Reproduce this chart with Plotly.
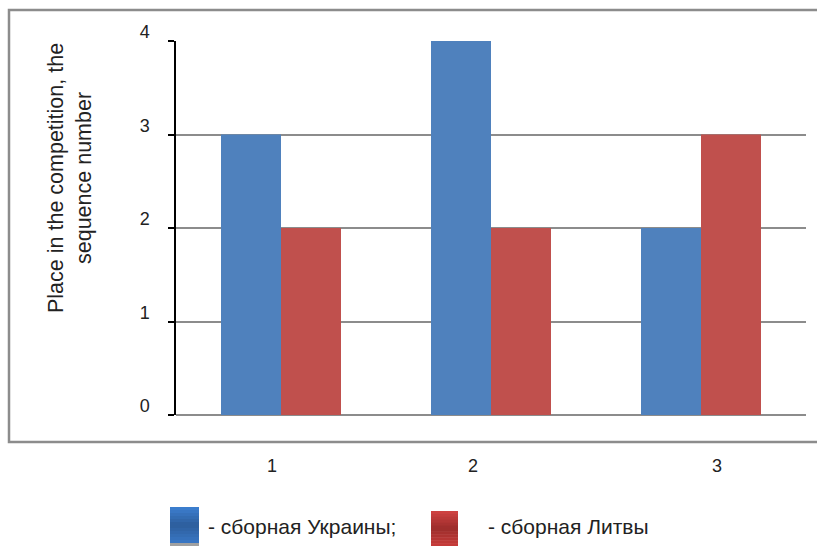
import plotly.graph_objects as go

categories = ["1", "2", "3"]
ukraine = [3, 4, 2]
lithuania = [2, 2, 3]
series_names = ["- сборная Украины;", "- сборная Литвы"]
y_ticks = [0, 1, 2, 3, 4]
y_title = "Place in the competition, the<br>sequence number"

FONT = "Liberation Sans, Arial, sans-serif"
BLUE = "#4F81BD"
RED = "#C0504D"

fig = go.Figure()
fig.add_trace(go.Bar(x=categories, y=ukraine, name=series_names[0], marker=dict(color=BLUE, line=dict(width=0))))
fig.add_trace(go.Bar(x=categories, y=lithuania, name=series_names[1], marker=dict(color=RED, line=dict(width=0))))

W, H = 817, 546
L, R, T, B = 176, 11, 41, 131
pw, ph = W - L - R, H - T - B

def px_to_paper_x(px):
    return (px - L) / pw

def px_to_paper_y(py):
    return (H - B - py) / ph

# category labels below the frame
xshifts = [-9, -18, 16]
for i, (c, xs) in enumerate(zip(categories, xshifts)):
    fig.add_annotation(x=i, y=0, xref="x", yref="paper", text=c, showarrow=False,
                       yanchor="middle", yshift=-(466 - 415), xshift=xs,
                       font=dict(family=FONT, size=18, color="#222"))

# y axis title
fig.add_annotation(x=px_to_paper_x(70), y=px_to_paper_y(178), xref="paper", yref="paper",
                   text=y_title, textangle=-90, showarrow=False, xanchor="center", yanchor="middle",
                   font=dict(family=FONT, size=21.5, color="#222"))

# outer frame
fig.add_shape(type="rect", xref="paper", yref="paper",
              x0=px_to_paper_x(9), x1=px_to_paper_x(822), y0=px_to_paper_y(442), y1=px_to_paper_y(10),
              line=dict(color="#8c8c8c", width=2.5), fillcolor="rgba(0,0,0,0)", layer="below")

# legend (custom)
def grad_square(x0, x1, y0, y1, top, mid, bot, n=12):
    def lerp(a, b, t):
        return tuple(int(a[i] + (b[i] - a[i]) * t) for i in range(3))
    def hx(h):
        h = h.lstrip("#")
        return tuple(int(h[i:i+2], 16) for i in (0, 2, 4))
    ct, cm, cb = hx(top), hx(mid), hx(bot)
    step = (y1 - y0) / n
    for k in range(n):
        t = (k + 0.5) / n
        if t < 0.5:
            c = lerp(ct, cm, t / 0.5)
        else:
            c = lerp(cm, cb, (t - 0.5) / 0.5)
        fig.add_shape(type="rect", xref="paper", yref="paper",
                      x0=px_to_paper_x(x0), x1=px_to_paper_x(x1),
                      y0=px_to_paper_y(y0 + k * step), y1=px_to_paper_y(y0 + (k + 1) * step + 0.5),
                      line=dict(width=0), fillcolor="rgb(%d,%d,%d)" % c)

grad_square(170, 199, 507, 543, "#3d80d2", "#2d5e9c", "#3a78c6")
fig.add_shape(type="rect", xref="paper", yref="paper", x0=px_to_paper_x(170), x1=px_to_paper_x(199),
              y0=px_to_paper_y(543), y1=px_to_paper_y(546), line=dict(width=0), fillcolor="#a0a0a0")
grad_square(431, 458, 511, 546, "#d24444", "#9c2d2b", "#c83d3b")

fig.add_annotation(x=px_to_paper_x(206), y=px_to_paper_y(526), xref="paper", yref="paper",
                   text=series_names[0], showarrow=False, xanchor="left", yanchor="middle",
                   font=dict(family=FONT, size=21, color="#222"))
fig.add_annotation(x=px_to_paper_x(486), y=px_to_paper_y(526), xref="paper", yref="paper",
                   text=series_names[1], showarrow=False, xanchor="left", yanchor="middle",
                   font=dict(family=FONT, size=21, color="#222"))

fig.update_layout(
    width=W, height=H,
    margin=dict(l=L, r=R, t=T, b=B, pad=0),
    paper_bgcolor="white", plot_bgcolor="white",
    showlegend=False,
    barmode="group", bargap=90 / 210, bargroupgap=0,
    font=dict(family=FONT, size=18, color="#222"),
)
fig.update_xaxes(type="category", range=[-0.5, len(categories) - 0.5], showticklabels=False,
                 showgrid=False, ticks="", showline=False, zeroline=False)
fig.update_yaxes(range=[0, 4], tickvals=y_ticks, ticktext=[str(v) for v in y_ticks],
                 showgrid=True, gridcolor="#8c8c8c", gridwidth=1.5,
                 zeroline=True, zerolinecolor="#8c8c8c", zerolinewidth=1.5,
                 showline=True, linecolor="black", linewidth=1.5,
                 ticks="outside", ticklen=6, tickcolor="black", tickwidth=1.5,
                 ticklabelstandoff=15, ticklabelshift=-9,
                 tickfont=dict(family=FONT, size=18, color="#222"))

fig.write_html("out.html", config={"displayModeBar": False},
               post_script="document.body.style.margin='0';document.body.style.overflow='hidden';")
